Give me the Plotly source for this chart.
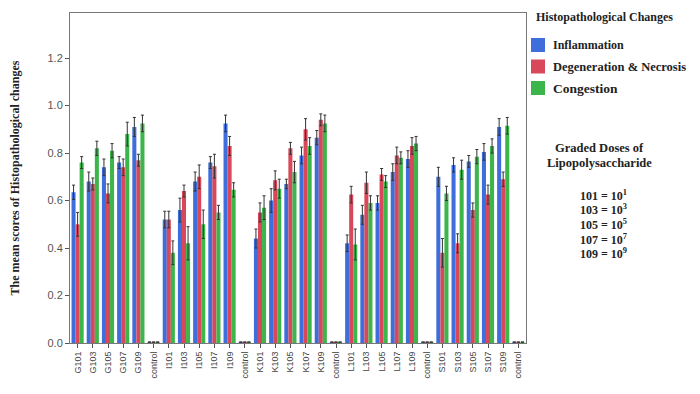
import plotly.graph_objects as go

labels = ["G101", "G103", "G105", "G107", "G109", "control",
          "I101", "I103", "I105", "I107", "I109", "control",
          "K101", "K103", "K105", "K107", "K109", "control",
          "L101", "L103", "L105", "L107", "L109", "control",
          "S101", "S103", "S105", "S107", "S109", "control"]

inflammation = [0.635, 0.68, 0.74, 0.76, 0.91, 0.004,
                0.52, 0.56, 0.68, 0.76, 0.925, 0.004,
                0.44, 0.60, 0.67, 0.79, 0.865, 0.004,
                0.42, 0.54, 0.59, 0.72, 0.775, 0.004,
                0.70, 0.75, 0.765, 0.805, 0.91, 0.004]
inflammation_err = [0.03, 0.04, 0.035, 0.025, 0.04, 0.0,
                    0.035, 0.05, 0.04, 0.025, 0.035, 0.0,
                    0.04, 0.05, 0.02, 0.035, 0.03, 0.0,
                    0.035, 0.04, 0.03, 0.035, 0.035, 0.0,
                    0.04, 0.03, 0.025, 0.035, 0.035, 0.0]

degeneration = [0.50, 0.67, 0.63, 0.74, 0.77, 0.004,
                0.52, 0.64, 0.70, 0.745, 0.83, 0.004,
                0.55, 0.685, 0.82, 0.90, 0.94, 0.004,
                0.625, 0.675, 0.71, 0.79, 0.83, 0.004,
                0.38, 0.42, 0.56, 0.625, 0.69, 0.004]
degeneration_err = [0.05, 0.025, 0.04, 0.035, 0.025, 0.0,
                    0.035, 0.025, 0.05, 0.05, 0.04, 0.0,
                    0.04, 0.04, 0.025, 0.045, 0.025, 0.0,
                    0.035, 0.045, 0.025, 0.035, 0.035, 0.0,
                    0.06, 0.04, 0.03, 0.04, 0.03, 0.0]

congestion = [0.76, 0.82, 0.81, 0.88, 0.925, 0.004,
              0.38, 0.42, 0.50, 0.55, 0.645, 0.004,
              0.57, 0.65, 0.72, 0.83, 0.925, 0.004,
              0.415, 0.59, 0.68, 0.78, 0.84, 0.004,
              0.63, 0.73, 0.785, 0.83, 0.915, 0.004]
congestion_err = [0.025, 0.03, 0.03, 0.05, 0.035, 0.0,
                  0.05, 0.07, 0.06, 0.03, 0.03, 0.0,
                  0.05, 0.04, 0.045, 0.035, 0.035, 0.0,
                  0.065, 0.03, 0.025, 0.025, 0.03, 0.0,
                  0.03, 0.04, 0.03, 0.03, 0.035, 0.0]

series_names = ["Inflammation", "Degeneration &amp; Necrosis", "Congestion"]
colors = ["#3e6ddc", "#d8485a", "#3cb54a"]

legend_title = "Histopathological Changes"
dose_title = ["Graded Doses of", "Lipopolysaccharide"]
dose_lines = ["101 = 10<sup>1</sup>", "103 = 10<sup>3</sup>", "105 = 10<sup>5</sup>",
              "107 = 10<sup>7</sup>", "109 = 10<sup>9</sup>"]

xpos = list(range(len(labels)))
serif = "Liberation Serif, Times New Roman, serif"
sans = "Liberation Sans, Arial, sans-serif"

# the page body adds an 8px margin, so the figure is sized to fit inside it
OFF = 8
W, H = 700 - OFF, 394 - OFF
ML, MT, PW, PH = 70 - OFF, 13 - OFF, 456, 330
MR, MB = W - ML - PW, H - MT - PH


def px(x):
    return (x - OFF - ML) / PW


def py(y):
    return (MT + PH - (y - OFF)) / PH


fig = go.Figure()
for name, vals, errs, col in zip(series_names,
                                 [inflammation, degeneration, congestion],
                                 [inflammation_err, degeneration_err, congestion_err],
                                 colors):
    fig.add_trace(go.Bar(
        x=xpos, y=vals, name=name, marker=dict(color=col, line=dict(width=0)),
        error_y=dict(type="data", array=errs, visible=True, color="#333333",
                     thickness=1, width=1.5),
        showlegend=False,
    ))

fig.update_layout(
    width=W, height=H,
    margin=dict(l=ML, r=MR, t=MT, b=MB),
    paper_bgcolor="white", plot_bgcolor="white",
    barmode="group", bargap=0.2, bargroupgap=0,
    xaxis=dict(
        tickmode="array", tickvals=xpos, ticktext=labels,
        tickangle=-90, tickfont=dict(family=sans, size=9, color="#444"),
        range=[-0.5, len(labels) - 0.5], automargin=False,
        showline=True, linecolor="#777", linewidth=1, mirror=True,
        ticks="outside", ticklen=4, tickcolor="#555",
        showgrid=False, zeroline=False,
    ),
    yaxis=dict(
        range=[0, 1.39], tickvals=[0, 0.2, 0.4, 0.6, 0.8, 1.0, 1.2],
        tickformat=".1f", automargin=False,
        tickfont=dict(family=sans, size=11, color="#555"),
        showline=True, linecolor="#777", linewidth=1, mirror=True,
        ticks="outside", ticklen=4, tickcolor="#555",
        showgrid=False, zeroline=False,
        title=dict(text="<b>The mean scores of Histopathological changes</b>",
                   font=dict(family=serif, size=12, color="#222"), standoff=28),
    ),
)

# legend title
fig.add_annotation(text="<b>" + legend_title + "</b>", xref="paper", yref="paper",
                   x=px(534), y=py(8.5), xanchor="left", yanchor="top",
                   showarrow=False, font=dict(family=serif, size=12, color="#222"))

# legend entries
entry_sizes = [12, 12.5, 13.5]
for i, (name, col) in enumerate(zip(series_names, colors)):
    yc = 45 + i * 21.5
    fig.add_shape(type="rect", xref="paper", yref="paper",
                  x0=px(531), x1=px(545), y0=py(yc - 7), y1=py(yc + 7),
                  fillcolor=col, line=dict(width=0))
    fig.add_annotation(text="<b>" + name + "</b>", xref="paper", yref="paper",
                       x=px(551), y=py(yc), xanchor="left", yanchor="middle",
                       showarrow=False,
                       font=dict(family=serif, size=entry_sizes[i], color="#222"))

for i, t in enumerate(dose_title):
    fig.add_annotation(text="<b>" + t + "</b>", xref="paper", yref="paper",
                       x=px(599), y=py(148 + i * 15), xanchor="center", yanchor="middle",
                       showarrow=False, font=dict(family=serif, size=12.5, color="#222"))

for i, t in enumerate(dose_lines):
    fig.add_annotation(text="<b>" + t + "</b>", xref="paper", yref="paper",
                       x=px(603), y=py(195 + i * 14.7), xanchor="center", yanchor="middle",
                       showarrow=False, font=dict(family=serif, size=12, color="#222"))

fig.write_html("out.html")
